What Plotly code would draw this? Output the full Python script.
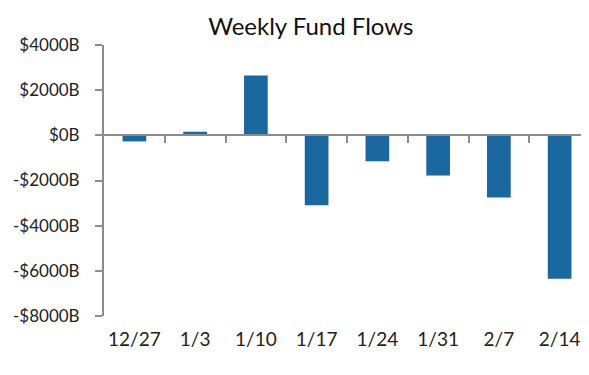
import plotly.graph_objects as go

weeks = ["12/27", "1/3", "1/10", "1/17", "1/24", "1/31", "2/7", "2/14"]
flows = [-270, 160, 2650, -3100, -1150, -1780, -2750, -6350]
y_ticks = [4000, 2000, 0, -2000, -4000, -6000, -8000]
y_tick_labels = ["$4000B", "$2000B", "$0B", "-$2000B", "-$4000B", "-$6000B", "-$8000B"]

bar_color = "#1b679f"
axis_color = "#8c8c8c"
font_family = "Lato, Noto Sans, sans-serif"

fig = go.Figure()
fig.add_trace(go.Bar(x=weeks, y=flows, marker=dict(color=bar_color, line=dict(width=0)),
                     width=0.39, showlegend=False))

y_min, y_max = -8000, 4000
zero_frac = (0 - y_min) / (y_max - y_min)

fig.update_layout(
    width=589, height=375,
    margin=dict(l=96, r=7, t=37, b=67, autoexpand=False),
    paper_bgcolor="white", plot_bgcolor="white",
    font=dict(family=font_family, size=17, color="#222222"),
    title=dict(text="Weekly Fund Flows", x=302.8/589, xanchor="center", y=0.95, yanchor="middle",
               font=dict(family=font_family, size=24, color="#111111")),
    xaxis=dict(type="category", showgrid=False, showline=False, zeroline=False, ticks="",
               tickfont=dict(size=19), ticklabelstandoff=10, automargin=False),
    xaxis2=dict(overlaying="x", anchor="free", position=zero_frac, range=[-0.5, 7.5],
                showgrid=False, zeroline=False, showline=True, linecolor=axis_color, linewidth=2,
                ticks="outside", ticklen=7, tickwidth=2, tickcolor=axis_color,
                tickvals=[0.5, 1.5, 2.5, 3.5, 4.5, 5.5, 6.5], showticklabels=False,
                automargin=False),
    yaxis=dict(range=[y_min, y_max], tickvals=y_ticks, ticktext=y_tick_labels,
               showgrid=False, zeroline=False, showline=True, linecolor=axis_color, linewidth=2,
               ticks="outside", ticklen=7, tickwidth=2, tickcolor=axis_color,
               tickfont=dict(size=17), ticklabelstandoff=12, automargin=False),
)

# invisible trace to keep xaxis2 active
fig.add_trace(go.Scatter(x=[0], y=[0], xaxis="x2", mode="markers", marker=dict(opacity=0),
                         hoverinfo="skip", showlegend=False))

fig.write_html("out.html")
